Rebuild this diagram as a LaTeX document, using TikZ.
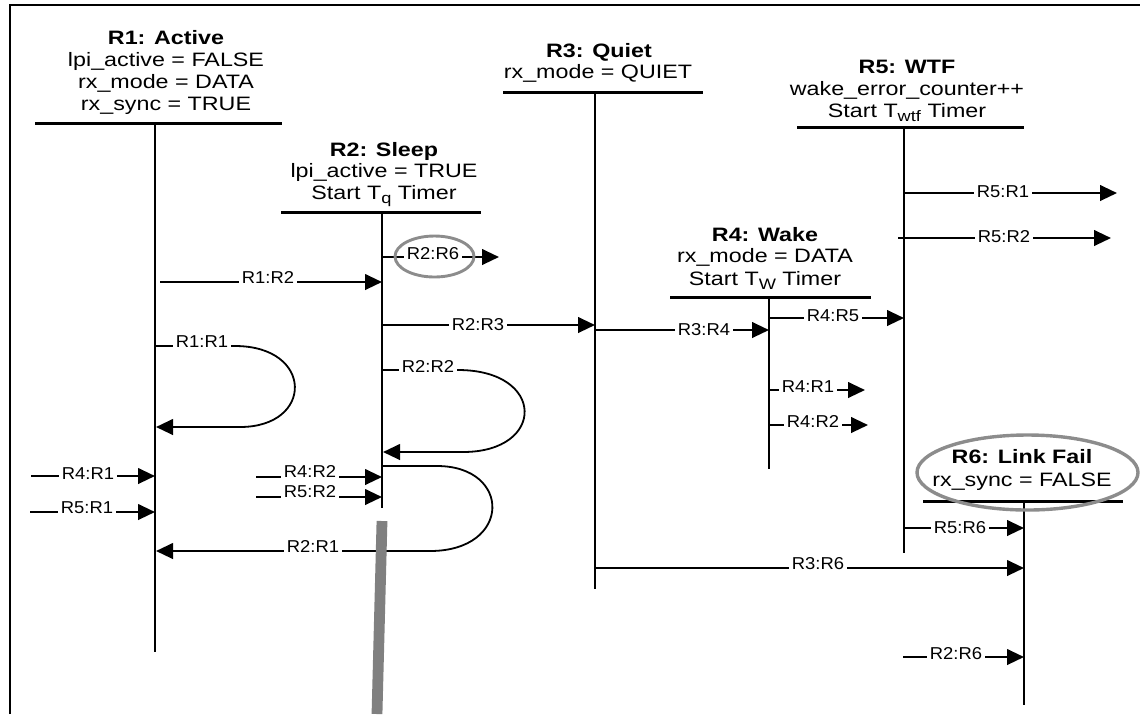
\documentclass[tikz,border=0pt]{standalone}
\usepackage{fontspec}
\setmainfont{Liberation Sans}
\newfontfamily\hdfont[FakeStretch=1.2]{Liberation Sans}
\newfontfamily\lbfont[FakeStretch=1.07]{Liberation Sans}
\usetikzlibrary{arrows.meta}
\newcommand\lowsub[1]{\raisebox{-2.3pt}{\fontsize{7.6}{8}\selectfont #1}}
\begin{document}
\begin{tikzpicture}[x=0.5pt,y=-0.5pt,
  hd/.style={font=\hdfont\fontsize{9.7}{11}\selectfont, inner sep=0pt, anchor=base},
  hdb/.style={font=\hdfont\bfseries\fontsize{9.7}{11}\selectfont, inner sep=0pt, anchor=base},
  bar/.style={line width=1.5pt},
  life/.style={line width=1.35pt},
  conn/.style={line width=1.15pt, -{Triangle[length=8.5pt,width=7.8pt]}},
  plainln/.style={line width=1.15pt},
  loopc/.style={line width=0.9pt},
  lbl/.style={font=\lbfont\fontsize{8.6}{10}\selectfont, fill=white, inner sep=1.3pt, anchor=base},
  hilite/.style={draw=black!45, line width=1.5pt},
]
\useasboundingbox (0,0) rectangle (1140,714);
% frame
\draw[line width=0.8pt] (10,714) -- (10,5) -- (1140,5);

% ---------- R1 ----------
\node[hdb] (r1t) at (166,44) {R1: Active};
\node[hd]  (r1a) at (166,66) {lpi\_active = FALSE};
\node[hd]  (r1b) at (166,88) {rx\_mode = DATA};
\node[hd]  (r1c) at (166,110) {rx\_sync = TRUE};
\coordinate (r1bl) at (35,123); \coordinate (r1br) at (282,123);
\coordinate (r1top) at (155,123); \coordinate (r1bot) at (155,652);
\draw[bar] (r1bl) -- (r1br);
\draw[life] (r1top) -- (r1bot);

% ---------- R2 ----------
\node[hdb] (r2t) at (384,156) {R2: Sleep};
\node[hd]  (r2a) at (384,177) {lpi\_active = TRUE};
\node[hd]  (r2b) at (384,199) {Start T\lowsub{q} Timer};
\coordinate (r2bl) at (281,212); \coordinate (r2br) at (481,212);
\coordinate (r2top) at (382,212); \coordinate (r2bot) at (382,508);
\draw[bar] (r2bl) -- (r2br);
\draw[life] (r2top) -- (r2bot);

% ---------- R3 ----------
\node[hdb] (r3t) at (599,57) {R3: Quiet};
\node[hd]  (r3a) at (598,78) {rx\_mode = QUIET};
\coordinate (r3bl) at (503,92); \coordinate (r3br) at (703,92);
\coordinate (r3top) at (595,92); \coordinate (r3bot) at (595,589);
\draw[bar] (r3bl) -- (r3br);
\draw[life] (r3top) -- (r3bot);

% ---------- R4 ----------
\node[hdb] (r4t) at (765,241) {R4: Wake};
\node[hd]  (r4a) at (765,262) {rx\_mode = DATA};
\node[hd]  (r4b) at (765,285) {Start T\lowsub{W} Timer};
\coordinate (r4bl) at (670,297); \coordinate (r4br) at (871,297);
\coordinate (r4top) at (769,297); \coordinate (r4bot) at (769,469);
\draw[bar] (r4bl) -- (r4br);
\draw[life] (r4top) -- (r4bot);

% ---------- R5 ----------
\node[hdb] (r5t) at (907,73) {R5: WTF};
\node[hd]  (r5a) at (907,95) {wake\_error\_counter++};
\node[hd]  (r5b) at (907,117) {Start T\lowsub{wtf} Timer};
\coordinate (r5bl) at (797,127); \coordinate (r5br) at (1024,127);
\coordinate (r5top) at (904,127); \coordinate (r5bot) at (904,553);
\draw[bar] (r5bl) -- (r5br);
\draw[life] (r5top) -- (r5bot);

% ---------- R6 ----------
\node[hdb] (r6t) at (1022,463) {R6: Link Fail};
\node[hd]  (r6a) at (1022,486) {rx\_sync = FALSE};
\coordinate (r6bl) at (923,501); \coordinate (r6br) at (1123,501);
\coordinate (r6top) at (1024,501); \coordinate (r6bot) at (1024,705);
\draw[bar] (r6bl) -- (r6br);
\draw[life] (r6top) -- (r6bot);

% ---------- connectors ----------
% R1:R2
\coordinate (a1s) at (160,282); \coordinate (a1e) at (382,282);
\draw[conn] (a1s) -- (a1e);
\node[lbl] (l1) at (268,283) {R1:R2};

% R1:R1 loop
\coordinate (a2s) at (155,346); \coordinate (a2m) at (235,346);
\coordinate (a2n) at (240,427); \coordinate (a2e) at (156,427);
\draw[plainln] (a2s) -- (a2m);
\draw[loopc] (a2m) .. controls (314,346) and (314,427) .. (a2n);
\draw[conn] (a2n) -- (a2e);
\node[lbl] (l2) at (202,347) {R1:R1};

% R2:R6 (out of R2)
\coordinate (a3s) at (382,257); \coordinate (a3e) at (499,257);
\draw[conn] (a3s) -- (a3e);
\node[lbl] (l3) at (433,259) {R2:R6};

% R2:R3
\coordinate (a4s) at (382,325); \coordinate (a4e) at (595,325);
\draw[conn] (a4s) -- (a4e);
\node[lbl] (l4) at (478,330) {R2:R3};

% R2:R2 loop
\coordinate (a5s) at (382,370); \coordinate (a5m) at (458,370);
\coordinate (a5n) at (463,452); \coordinate (a5e) at (383,452);
\draw[plainln] (a5s) -- (a5m);
\draw[loopc] (a5m) .. controls (546,370) and (546,452) .. (a5n);
\draw[conn] (a5n) -- (a5e);
\node[lbl] (l5) at (428,372) {R2:R2};

% R2:R1 loop
\coordinate (a6s) at (382,466); \coordinate (a6m) at (437,466);
\coordinate (a6n) at (430,551); \coordinate (a6e) at (156,551);
\draw[plainln] (a6s) -- (a6m);
\draw[loopc] (a6m) .. controls (512,466) and (512,551) .. (a6n);
\draw[conn] (a6n) -- (a6e);
\node[lbl] (l6) at (313,552) {R2:R1};

% R4:R1 and R5:R1 into R1
\coordinate (a7s) at (31,476); \coordinate (a7e) at (155,476);
\draw[conn] (a7s) -- (a7e);
\node[lbl] (l7) at (88,479) {R4:R1};
\coordinate (a8s) at (30,512); \coordinate (a8e) at (155,512);
\draw[conn] (a8s) -- (a8e);
\node[lbl] (l8) at (87,513) {R5:R1};

% R4:R2 and R5:R2 into R2
\coordinate (a9s) at (256,477); \coordinate (a9e) at (382,477);
\draw[conn] (a9s) -- (a9e);
\node[lbl] (l9) at (310,477) {R4:R2};
\coordinate (a10s) at (256,497); \coordinate (a10e) at (382,497);
\draw[conn] (a10s) -- (a10e);
\node[lbl] (l10) at (310,497) {R5:R2};

% R3:R4
\coordinate (a11s) at (595,330); \coordinate (a11e) at (769,330);
\draw[conn] (a11s) -- (a11e);
\node[lbl] (l11) at (704,335) {R3:R4};

% R4:R5
\coordinate (a12s) at (769,318); \coordinate (a12e) at (904,318);
\draw[conn] (a12s) -- (a12e);
\node[lbl] (l12) at (833,321) {R4:R5};

% R4:R1, R4:R2 out of R4
\coordinate (a13s) at (769,390); \coordinate (a13e) at (865,390);
\draw[conn] (a13s) -- (a13e);
\node[lbl] (l13) at (808,392) {R4:R1};
\coordinate (a14s) at (769,425); \coordinate (a14e) at (868,425);
\draw[conn] (a14s) -- (a14e);
\node[lbl] (l14) at (813,427) {R4:R2};

% R5:R1, R5:R2 out of R5
\coordinate (a15s) at (904,193); \coordinate (a15e) at (1117,193);
\draw[conn] (a15s) -- (a15e);
\node[lbl] (l15) at (1003,197) {R5:R1};
\coordinate (a16s) at (898,238); \coordinate (a16e) at (1111,238);
\draw[conn] (a16s) -- (a16e);
\node[lbl] (l16) at (1004,242) {R5:R2};

% R5:R6
\coordinate (a17s) at (904,528); \coordinate (a17e) at (1024,528);
\draw[conn] (a17s) -- (a17e);
\node[lbl] (l17) at (960,533) {R5:R6};

% R3:R6
\coordinate (a18s) at (595,568); \coordinate (a18e) at (1024,568);
\draw[conn] (a18s) -- (a18e);
\node[lbl] (l18) at (818,569) {R3:R6};

% R2:R6 into R6
\coordinate (a19s) at (903,657); \coordinate (a19e) at (1024,657);
\draw[conn] (a19s) -- (a19e);
\node[lbl] (l19) at (956,659) {R2:R6};

% ---------- highlights ----------
\draw[hilite, line width=1.45pt] (434.5,256.5) ellipse [x radius=19.75pt, y radius=10.25pt];
\draw[hilite, line width=1.7pt] (1027.5,472.5) ellipse [x radius=55.25pt, y radius=18.75pt];
\coordinate (gb1) at (382,521); \coordinate (gb2) at (377,714);
\draw[line width=5.4pt, draw=black!50] (gb1) -- (gb2);
\end{tikzpicture}
\end{document}
